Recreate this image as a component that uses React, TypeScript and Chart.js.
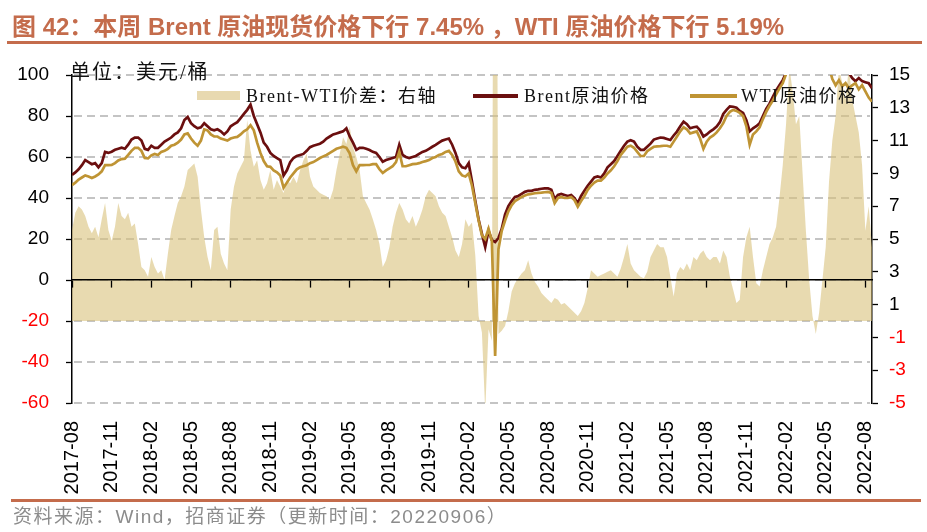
import React, { useEffect, useRef } from 'react';
import { Chart, registerables } from 'chart.js';

Chart.register(...registerables);

// months between consecutive samples (x = month index since 2017-08)
const STEP = 0.25;

const brent = [
  51.2, 52.5, 54, 56, 58.5, 57.5, 56.5, 57, 55, 57, 62.5, 62,
  62.6, 63.5, 64, 64.5, 64, 66, 68.5, 69.5, 69.5, 68, 64, 63.5,
  65.5, 64.5, 64.5, 66, 67.5, 68.5, 69.5, 71, 72, 74, 78, 79.5,
  76.5, 75, 74, 74.5, 76.5, 75, 73.5, 73, 73.5, 72.5, 71, 72.5,
  75, 76, 77, 79, 81, 83, 85.5, 80, 76, 72, 67, 65,
  62, 60.5, 59.5, 58.5, 51, 53.5, 57.5, 59.5, 60.5, 61, 61.5, 63,
  64.8, 65.5, 66, 66.5, 67.5, 69, 70, 71, 71.5, 72, 72.5, 74,
  70, 67, 63.5, 64.5, 64.5, 64, 63.4, 62.5, 62, 60, 57.7, 58.5,
  59, 59.5, 60, 66, 61, 60, 59.5, 60, 60.5, 61.5, 62.5, 63,
  64, 65, 65.9, 67, 68, 68.5, 69, 66, 62, 57, 55, 54.5,
  57, 48, 38.5, 29.5, 22.5, 16, 24, 19.5, 18.5, 20.5, 25, 32,
  36, 38.5, 40.5, 41, 42, 43, 43.5, 43.5, 44, 44.2, 44.5, 44.7,
  44.7, 44, 39.5, 41.5, 42, 41.5, 41, 41.5, 40, 37.5, 41, 43.5,
  46, 48, 50, 50.5, 50, 52, 55, 56.5, 58, 60.5, 63, 65.5,
  67.5, 68.2, 67.5, 65, 63.5, 63.5, 65, 66.5, 68.5, 69, 69.5, 69.3,
  68.8, 68.3, 70.5, 72.4, 75, 77.2, 76, 74, 74.5, 74.8, 73, 70,
  71, 72.4, 73.5, 74.8, 77, 81, 83, 84.7, 84.5, 84, 82.5, 81.5,
  78, 72.5, 74, 75, 76.4, 80, 83.5, 86, 89.4, 92.5, 95, 97.5,
  101, 105, 112, 125, 115, 110, 108, 112, 108, 106, 105, 108,
  112, 115, 118, 122, 118, 110, 104, 101, 98.5, 97, 98.5, 97,
  96.5, 96, 93.5,
];

const wti = [
  46.3, 47.5, 49, 50, 51, 50.5, 49.8, 50.5, 51.5, 53, 56, 56,
  56.1, 57, 58.3, 59, 59.2, 61, 63, 64.5, 64.5, 63, 59.5, 59.3,
  60.8, 61.5, 61, 62.5, 63, 64, 65.5, 66, 67, 68.5, 71, 71.5,
  69, 67, 65.5, 68, 73.5, 73, 71, 70, 70, 69, 68.5, 68,
  69, 69.5, 69.8, 71, 72.5, 73.5, 75.5, 73, 67, 62, 58, 55.5,
  55.2, 53.5, 52.5, 51, 45, 47.5, 50, 52, 54, 55, 55.5, 56,
  57, 57.5, 58.5, 59.5, 60.3, 61, 62, 63, 64, 64.5, 65, 64.5,
  61.8, 56, 53, 56, 56, 56.1, 56.1, 56.5, 56.5, 54, 52.2, 53.5,
  54.5, 55.5, 57.5, 62.5, 55.5, 55.5, 56, 56.5, 56.6, 57, 57.6, 58,
  58.5, 59.5, 60, 61, 61.5, 62.5, 63, 61, 57.8, 53, 51, 50.5,
  52, 46, 37.5, 29, 21.8, 20, 25, 19, -37, 15, 24, 29,
  33.5, 36.5, 38.5, 39.5, 40.5, 41.2, 41.8, 42, 42.3, 42.5, 42.6, 42.8,
  43, 42.5, 37.5, 40, 40.5, 40, 40, 40.5, 39, 35.8, 38.5, 41,
  44, 46, 47.5, 48.5, 48.5, 50, 52, 53.5, 55.5, 58, 61, 63,
  65, 65.5, 64.5, 62.5, 60.5, 60.5, 62.8, 64, 65, 65.2, 65.3, 65.5,
  65.5, 65, 67.5, 70, 72.5, 74.5, 73.5, 71.5, 72, 72.5, 69, 64,
  67.5, 69.5, 70.5, 72, 74, 76.5, 80, 82, 83, 82.5, 81.5, 80,
  75, 66, 71, 72.5, 74.5, 78.5, 82, 85, 87.5, 90.5, 93.5, 96,
  100.5, 104, 110, 118, 108, 103, 104, 106, 104, 103, 105, 110,
  112, 104, 98, 95, 97.5, 94.5, 96, 93.5, 95, 96, 93, 95,
  92, 89, 87,
];

const spread = [
  5.55, 6.6, 7.0, 6.8, 6.4, 5.75, 5.35, 5.75, 5.1, 6.2, 7.2, 5.55,
  4.9, 5.75, 7.2, 6.4, 6.2, 6.6, 5.75, 5.95, 4.7, 3.3, 3.1, 2.7,
  3.9, 3.3, 2.9, 3.1, 2.5, 4.1, 5.55, 6.4, 7.2, 7.6, 8.2, 9.2,
  9.4, 9.6, 8.8, 6.8, 5.1, 3.9, 3.1, 5.55, 5.75, 4.1, 3.5, 3.1,
  6.8, 8.2, 9.0, 9.4, 9.8, 12.25, 10.4, 9.4, 9.8, 8.6, 8.0, 8.4,
  9.2, 8.0, 8.6, 8.2, 7.8, 8.6, 8.4, 8.8, 8.4, 9.2, 9.8, 10.2,
  8.8, 8.2, 8.0, 7.8, 7.7, 7.6, 7.4, 8.0, 9.2, 10.2, 11.2, 10.8,
  11.85, 10.6, 10.0, 9.2, 7.6, 7.2, 6.8, 6.2, 5.55, 4.7, 3.3, 3.7,
  4.5, 5.75, 6.6, 7.2, 6.8, 6.2, 5.95, 6.4, 5.75, 6.2, 6.8, 7.6,
  8.0, 7.8, 7.6, 7.0, 6.6, 6.4, 5.75, 5.1, 4.3, 3.9, 4.7, 6.2,
  5.75, 6.0, 4.0, 0.3, -0.7, -5.5, -0.5, -1.2, 55, -0.8, -0.6, -0.3,
  0.6, 1.8, 2.3, 2.6, 2.9, 3.1, 3.7, 2.9, 2.4, 2.1, 1.7, 1.5,
  1.3, 1.1, 1.4, 1.3, 1.0, 1.1, 0.9, 0.7, 0.5, 0.3, 0.6, 1.1,
  2.0, 3.1, 2.9, 2.7, 2.8, 2.9, 3.0, 3.1, 2.9, 2.7, 3.2, 3.9,
  4.7, 3.5, 3.1, 2.9, 2.7, 2.6, 3.0, 3.9, 4.3, 4.7, 4.5, 4.5,
  3.9, 2.7, 1.5, 2.9, 3.3, 3.1, 3.5, 3.1, 3.9, 3.7, 4.1, 4.3,
  3.9, 3.7, 3.9, 3.9, 3.5, 4.3, 3.9, 2.7, 1.9, 1.1, 1.3, 3.9,
  5.1, 5.75, 3.9, 2.3, 2.1, 3.1, 3.9, 4.7, 5.1, 5.75, 7.5, 9.5,
  12, 15.5, 14, 12, 12.5, 9, 5.5, 2.5, 0.3, -0.8, 0.5, 2.5,
  4.5, 8.5, 11, 12.5, 15.5, 14.5, 13.5, 15.5, 13.5, 12.5, 11.5, 9.5,
  5.5, 7, 4.5,
];

const xTickLabels = [
  '2017-08', '2017-11', '2018-02', '2018-05', '2018-08', '2018-11', '2019-02',
  '2019-05', '2019-08', '2019-11', '2020-02', '2020-05', '2020-08', '2020-11',
  '2021-02', '2021-05', '2021-08', '2021-11', '2022-02', '2022-05', '2022-08',
];
const leftTicks = [100, 80, 60, 40, 20, 0, -20, -40, -60];
const rightTicks = [15, 13, 11, 9, 7, 5, 3, 1, -1, -3, -5];

const seriesNames = ['Brent-WTI价差：右轴', 'Brent原油价格', 'WTI原油价格'];
const TITLE = '图 42：本周 Brent 原油现货价格下行 7.45% ，WTI 原油价格下行 5.19%';
const UNIT = '单位：美元/桶';
const SOURCE = '资料来源：Wind，招商证券（更新时间：20220906）';

const BRENT_C = '#6B0F0F';
const WTI_C = '#BF9434';
const SPREAD_FILL = 'rgba(217,193,123,0.6)';
const SPREAD_SOLID = '#E8D9B0';
const TITLE_C = '#C46C4C';
const GRID_C = '#C4C4C4';
const SANS = "'Liberation Sans', Arial, 'Noto Sans CJK SC', sans-serif";
const SERIF = "'Liberation Serif', 'Noto Sans CJK SC', serif";

const X_MAX = 60.5;
const xTickValues = xTickLabels.map((_, i) => i * 3);
const toPoints = (arr: number[]) => arr.map((v, i) => ({ x: i * STEP, y: v }));
const negRed = (c: any) => (c.tick && c.tick.value < 0 ? '#FF0000' : '#000000');

export default function App() {
  const ref = useRef<HTMLCanvasElement>(null);

  useEffect(() => {
    document.body.style.margin = '0';
    const canvas = ref.current as HTMLCanvasElement;

    // dashed horizontal grid at the left-axis ticks, beneath the datasets
    const dashedGrid = {
      id: 'dashedGrid',
      beforeDatasetsDraw(c: any) {
        const { ctx, chartArea } = c;
        const ys = c.scales.y;
        ctx.save();
        ctx.strokeStyle = GRID_C;
        ctx.lineWidth = 2;
        ctx.setLineDash([8, 5]);
        leftTicks.forEach((v) => {
          const y = Math.round(ys.getPixelForValue(v));
          ctx.beginPath();
          ctx.moveTo(chartArea.left + 2, y);
          ctx.lineTo(chartArea.right - 2, y);
          ctx.stroke();
        });
        ctx.restore();
      },
    };

    const chart = new Chart(canvas, {
      type: 'line',
      plugins: [dashedGrid],
      data: {
        datasets: [
          {
            label: seriesNames[2],
            data: toPoints(wti),
            xAxisID: 'x',
            yAxisID: 'y',
            borderColor: WTI_C,
            backgroundColor: WTI_C,
            borderWidth: 2.7,
            pointRadius: 0,
            tension: 0,
            fill: false,
            clip: 0,
            order: 0,
          },
          {
            label: seriesNames[1],
            data: toPoints(brent),
            xAxisID: 'x',
            yAxisID: 'y',
            borderColor: BRENT_C,
            backgroundColor: BRENT_C,
            borderWidth: 2.7,
            pointRadius: 0,
            tension: 0,
            fill: false,
            clip: 0,
            order: 1,
          },
          {
            label: seriesNames[0],
            data: toPoints(spread),
            xAxisID: 'x',
            yAxisID: 'y2',
            borderColor: SPREAD_FILL,
            backgroundColor: SPREAD_FILL,
            borderWidth: 0,
            pointRadius: 0,
            tension: 0,
            fill: 'origin',
            clip: 0,
            order: 2,
          },
        ],
      },
      options: {
        responsive: false,
        maintainAspectRatio: false,
        animation: false,
        events: [],
        layout: { padding: { top: 75, left: 0, right: 0, bottom: 0 } },
        plugins: {
          legend: { display: false },
          tooltip: { enabled: false },
          title: { display: false },
        },
        scales: {
          x: {
            type: 'linear',
            position: 'bottom',
            min: 0,
            max: X_MAX,
            afterBuildTicks: (s: any) => {
              s.ticks = xTickValues.map((v) => ({ value: v }));
            },
            afterFit: (s: any) => {
              s.height = 129;
              s.paddingLeft = 0;
              s.paddingRight = 0;
            },
            grid: { display: false, drawTicks: false },
            border: { display: false },
            ticks: {
              autoSkip: false,
              minRotation: 90,
              maxRotation: 90,
              padding: 18,
              color: '#000',
              font: { family: SANS, size: 20 },
              callback: (v: any) => {
                const k = Math.round(Number(v) / 3);
                return xTickLabels[k] ?? '';
              },
            },
          },
          x0: {
            type: 'linear',
            axis: 'x',
            position: { y: 0 },
            min: 0,
            max: X_MAX,
            afterBuildTicks: (s: any) => {
              s.ticks = xTickValues.map((v) => ({ value: v }));
            },
            grid: {
              drawOnChartArea: false,
              drawTicks: true,
              tickLength: 7,
              tickColor: '#000',
              tickWidth: 1.3,
              z: 2,
            },
            border: { display: true, color: '#000', width: 1.6, z: 2 },
            ticks: { display: false },
          },
          y: {
            type: 'linear',
            position: 'left',
            min: -60,
            max: 100,
            afterBuildTicks: (s: any) => {
              s.ticks = leftTicks.map((v) => ({ value: v }));
            },
            afterFit: (s: any) => {
              s.width = 72;
              s.paddingTop = 0;
              s.paddingBottom = 0;
            },
            grid: {
              drawOnChartArea: false,
              drawTicks: true,
              tickLength: 6,
              tickColor: '#000',
              tickWidth: 1.3,
            },
            border: { display: true, color: '#000', width: 1.5 },
            ticks: {
              autoSkip: false,
              padding: 17,
              color: negRed,
              font: { family: SANS, size: 19 },
            },
          },
          y2: {
            type: 'linear',
            position: 'right',
            min: -5,
            max: 15,
            afterBuildTicks: (s: any) => {
              s.ticks = rightTicks.map((v) => ({ value: v }));
            },
            afterFit: (s: any) => {
              s.width = 55;
              s.paddingTop = 0;
              s.paddingBottom = 0;
            },
            grid: {
              drawOnChartArea: false,
              drawTicks: true,
              tickLength: 6,
              tickColor: '#000',
              tickWidth: 1.3,
            },
            border: { display: true, color: '#000', width: 1.5 },
            ticks: {
              autoSkip: false,
              padding: 11,
              color: negRed,
              font: { family: SANS, size: 19 },
            },
          },
        },
      } as any,
    } as any);
    return () => chart.destroy();
  }, []);

  const legendText: React.CSSProperties = {
    position: 'absolute',
    fontFamily: SERIF,
    fontSize: 18,
    letterSpacing: 1.5,
    lineHeight: '20px',
    color: '#111',
    whiteSpace: 'nowrap',
  };

  return (
    <div
      style={{
        position: 'fixed',
        left: 0,
        top: 0,
        width: 927,
        height: 532,
        background: '#fff',
        overflow: 'hidden',
      }}
    >
      <canvas
        ref={ref}
        width={927}
        height={532}
        style={{ position: 'absolute', left: 0, top: 0, width: 927, height: 532 }}
      />
      <div
        style={{
          position: 'absolute',
          left: 12,
          top: 12,
          fontFamily: SANS,
          fontWeight: 'bold',
          fontSize: 24,
          lineHeight: '29px',
          color: TITLE_C,
          whiteSpace: 'nowrap',
        }}
      >
        {TITLE}
      </div>
      <div style={{ position: 'absolute', left: 7, top: 41, width: 915, height: 2.5, background: TITLE_C }} />

      <div style={{ ...legendText, left: 70, top: 61, fontSize: 20, letterSpacing: 2, lineHeight: '22px' }}>{UNIT}</div>

      <div style={{ position: 'absolute', left: 197, top: 91, width: 43, height: 9, background: SPREAD_SOLID }} />
      <div style={{ ...legendText, left: 246, top: 86 }}>{seriesNames[0]}</div>
      <div style={{ position: 'absolute', left: 473, top: 94, width: 45, height: 4, background: BRENT_C }} />
      <div style={{ ...legendText, left: 524, top: 86 }}>{seriesNames[1]}</div>
      <div style={{ position: 'absolute', left: 690, top: 94, width: 47, height: 4, background: WTI_C }} />
      <div style={{ ...legendText, left: 741, top: 86 }}>{seriesNames[2]}</div>

      <div style={{ position: 'absolute', left: 11, top: 499, width: 910, height: 2.5, background: TITLE_C }} />
      <div
        style={{
          position: 'absolute',
          left: 13,
          top: 506,
          fontFamily: SANS,
          fontSize: 19,
          letterSpacing: 1.5,
          lineHeight: '22px',
          color: '#8C8C8C',
          whiteSpace: 'nowrap',
        }}
      >
        {SOURCE}
      </div>
    </div>
  );
}
